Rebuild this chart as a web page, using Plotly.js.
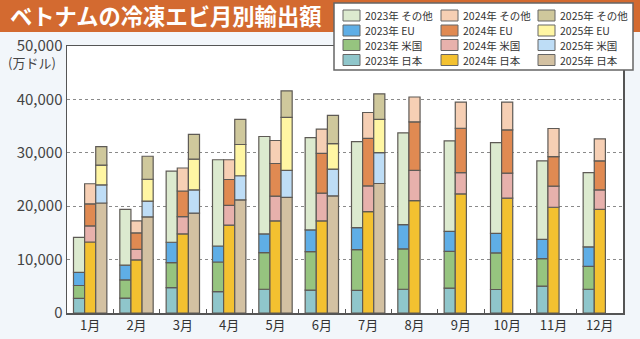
<!DOCTYPE html>
<html>
<head>
<meta charset="utf-8">
<script src="https://cdn.plot.ly/plotly-3.0.1.min.js"></script>
<style>
html,body{margin:0;padding:0;background:#F2F6FA;}
#chart{width:640px;height:339px;}
</style>
</head>
<body>
<div id="chart"></div>
<script>
// ---- data (万ドル) ----
const months = ["1月","2月","3月","4月","5月","6月","7月","8月","9月","10月","11月","12月"];
const years = ["2023年","2024年","2025年"];
const regions = ["日本","米国","EU","その他"]; // bottom -> top

const jp2023  = [2750, 2800, 4750, 4000, 4450, 4300, 4250, 4450, 4650, 4400, 5050, 4450];
const us2023  = [2400, 3400, 4700, 5550, 6850, 7200, 7600, 7550, 6900, 6850, 5150, 4300];
const eu2023  = [2450, 2750, 3800, 3000, 3500, 4050, 4150, 4550, 3750, 3650, 3600, 3650];
const oth2023 = [6550, 10450, 13300, 16150, 18250, 17300, 16100, 17200, 16950, 17000, 14700, 13900];

const jp2024  = [13300, 9950, 14800, 16450, 17250, 17250, 19000, 21050, 22300, 21500, 19800, 19400];
const us2024  = [3000, 1950, 3250, 3700, 4650, 5200, 4800, 5650, 4000, 4700, 3950, 3650];
const eu2024  = [4150, 3100, 4800, 4850, 6100, 7450, 8900, 9100, 8300, 8100, 5550, 5450];
const oth2024 = [3750, 2250, 4300, 3700, 4300, 4550, 4850, 4650, 4900, 5200, 5250, 4100];

const jp2025  = [20600, 18000, 18700, 21200, 21650, 21950, 24250, null, null, null, null, null];
const us2025  = [3400, 2950, 4350, 4500, 5050, 5000, 5800, null, null, null, null, null];
const eu2025  = [3700, 4100, 5750, 5850, 9950, 4750, 6200, null, null, null, null, null];
const oth2025 = [3450, 4300, 4650, 4700, 4950, 5300, 4800, null, null, null, null, null];

const seriesByYear = [
  [jp2023, us2023, eu2023, oth2023],
  [jp2024, us2024, eu2024, oth2024],
  [jp2025, us2025, eu2025, oth2025]
];

const colors = [
  ["#8FC6CB", "#96C47F", "#5FAEE6", "#DCEACF"],
  ["#F3C130", "#E7B1AC", "#E08A52", "#F6CFB4"],
  ["#D3C1A2", "#BEDDF6", "#FFF6A3", "#CFC89C"]
];

// ---- layout geometry ----
const W = 640, H = 339;
const M = {l: 67, r: 17, t: 46, b: 26};
const pw = W - M.l - M.r, ph = H - M.t - M.b;
const px2x = p => (p - M.l) / pw;
const py2y = p => (H - M.b - p) / ph;
const FONT = '"Noto Sans CJK JP", "Noto Sans", sans-serif';

// ---- traces ----
const traces = [];
seriesByYear.forEach((ser, yi) => {
  const cum = months.map(() => 0);
  ser.forEach((vals, ri) => {
    const base = vals.map((v, i) => v == null ? null : cum[i]);
    vals.forEach((v, i) => { if (v != null) cum[i] += v; });
    traces.push({
      type: "bar",
      name: years[yi] + " " + regions[ri],
      x: months,
      y: vals,
      base: base,
      offsetgroup: years[yi],
      marker: {color: colors[yi][ri], line: {color: "#5E5A55", width: 1.2}},
      showlegend: false,
      hoverinfo: "name+y"
    });
  });
});

// ---- shapes & annotations ----
const shapes = [
  // title banner
  {type: "rect", xref: "paper", yref: "paper", layer: "below",
   x0: px2x(0), x1: px2x(W), y0: py2y(32), y1: py2y(0),
   fillcolor: "#D36A30", line: {width: 0}},
  // legend box
  {type: "rect", xref: "paper", yref: "paper", layer: "above",
   x0: px2x(334), x1: px2x(633), y0: py2y(70), y1: py2y(3),
   fillcolor: "#FFFFFF", line: {color: "#666666", width: 1.5}}
];
const annotations = [
  {text: "(万ドル)", xref: "paper", yref: "paper", x: px2x(32), y: py2y(62),
   xanchor: "center", yanchor: "middle", showarrow: false,
   font: {family: FONT, size: 13, color: "#444"}}
];
const colX = [343, 441, 538];
const rowY = [60, 45, 30.5, 15.5]; // 日本, 米国, EU, その他
years.forEach((yr, yi) => {
  regions.forEach((rg, ri) => {
    const cx = colX[yi], cy = rowY[ri];
    shapes.push({type: "rect", xref: "paper", yref: "paper", layer: "above",
      x0: px2x(cx), x1: px2x(cx + 17), y0: py2y(cy + 5.5), y1: py2y(cy - 5.5),
      fillcolor: colors[yi][ri], line: {color: "#666", width: 1}});
    annotations.push({text: yr + " " + rg, xref: "paper", yref: "paper",
      x: px2x(cx + 20), y: py2y(cy), xanchor: "left", yanchor: "middle",
      showarrow: false, font: {family: FONT, size: 10.5, color: "#333"}});
  });
});

const layout = {
  width: W, height: H,
  margin: M,
  paper_bgcolor: "#F2F6FA",
  plot_bgcolor: "#FFFFFF",
  barmode: "group",
  bargap: 0.28,
  bargroupgap: 0,
  showlegend: false,
  font: {family: FONT, color: "#333"},
  title: {text: "ベトナムの冷凍エビ月別輸出額", x: 10 / W, xanchor: "left",
          y: 1 - 17 / H, yanchor: "middle", yref: "container", xref: "container",
          font: {family: FONT, size: 22.3, color: "#FFFFFF", weight: "bold"}},
  xaxis: {type: "category", showline: true, mirror: true, linecolor: "#555", linewidth: 1.5,
          ticks: "inside", tickson: "boundaries", ticklen: 4, tickcolor: "#555",
          tickfont: {family: FONT, size: 13, color: "#333"}, showgrid: false, fixedrange: true},
  yaxis: {range: [0, 50000], dtick: 10000, tickformat: ",d", showline: true, mirror: true,
          linecolor: "#555", linewidth: 1.5, ticks: "", showgrid: true, gridcolor: "#8A8A8A",
          griddash: "3px,3px", gridwidth: 1, zeroline: false,
          tickfont: {family: FONT, size: 15, color: "#444"}, fixedrange: true},
  shapes: shapes,
  annotations: annotations
};

Plotly.newPlot("chart", traces, layout, {displayModeBar: false, staticPlot: true});
</script>
</body>
</html>
